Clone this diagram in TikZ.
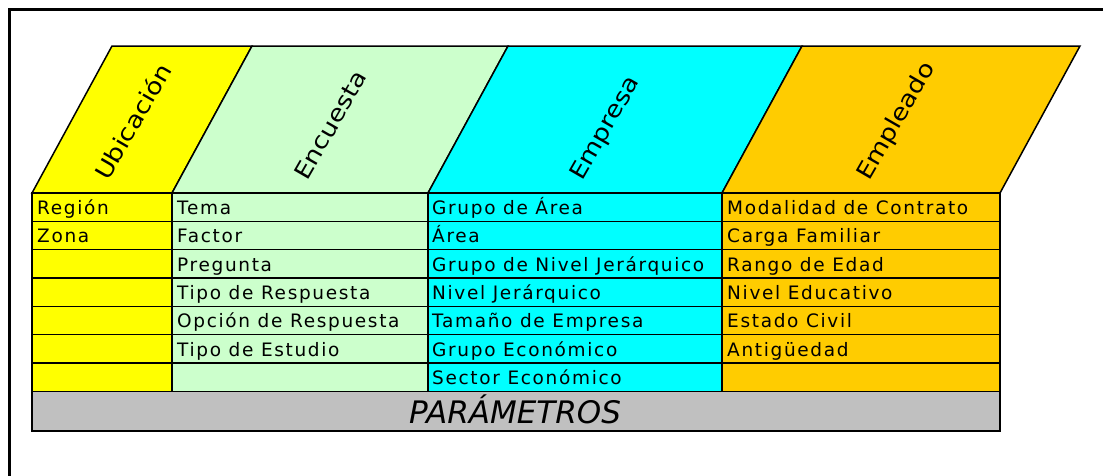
\documentclass[tikz,border=0pt]{standalone}
\usepackage{fontspec}
\setmainfont{DejaVu Sans}[LetterSpace=9]
\newfontfamily\pfont{DejaVu Sans}
\definecolor{cUbic}{HTML}{FFFF00}
\definecolor{cEnc}{HTML}{CCFFCC}
\definecolor{cEmp}{HTML}{00FFFF}
\definecolor{cEmpl}{HTML}{FFCC00}
\definecolor{cPar}{HTML}{C0C0C0}
\newcommand{\headlabel}[1]{\scalebox{1.15}[1]{\pfont\fontsize{23}{25}\selectfont #1}}
\begin{document}
\begin{tikzpicture}[x=1pt,y=-1pt,
  gridline/.style={draw=black,line width=1.5pt},
  celltext/.style={anchor=base west,inner sep=0pt,font=\fontsize{18.5}{20}\selectfont},
  headtext/.style={rotate=60,anchor=base west,inner sep=0pt},
  frameline/.style={draw=black,line width=3pt}]
\useasboundingbox (0,0) rectangle (1103,475);
\fill[white] (0,0) rectangle (1103,475);
\begin{scope}
  \clip (0,0) rectangle (1103,475);
  \draw[frameline] (9,9) rectangle (1130,500);
\end{scope}
% column fills: header parallelograms and bodies
\foreach \a/\b/\c in {32/172/cUbic,172/428/cEnc,428/722/cEmp,722/1000/cEmpl}{
  \filldraw[fill=\c,gridline] (\a,193) -- (\a+80,46) -- (\b+80,46) -- (\b,193) -- cycle;
  \filldraw[fill=\c,gridline] (\a,193) rectangle (\b,391.3);
}
\foreach \i in {1,...,6}{
  \draw[gridline] (32,193+\i*28.33) -- (1000,193+\i*28.33);
}
% parameter bar
\filldraw[fill=cPar,gridline] (32,391.3) rectangle (1000,431);
\node[anchor=base,inner sep=0pt,font=\pfont\itshape\fontsize{31}{33}\selectfont] (param) at (515,423) {PARÁMETROS};
% headers
\node[headtext] (hUbic) at (108,182) {\headlabel{Ubicación}};
\node[headtext] (hEnc) at (307,182) {\headlabel{Encuesta}};
\node[headtext] (hEmp) at (582,182) {\headlabel{Empresa}};
\node[headtext] (hEmpl) at (869,182) {\headlabel{Empleado}};
% cells
\node[celltext] (u1) at (37,214.5) {Región};
\node[celltext] (u2) at (37,242.8) {Zona};
\node[celltext] (e1) at (177,214.5) {Tema};
\node[celltext] (e2) at (177,242.8) {Factor};
\node[celltext] (e3) at (177,271.2) {Pregunta};
\node[celltext] (e4) at (177,299.5) {Tipo de Respuesta};
\node[celltext] (e5) at (177,327.8) {Opción de Respuesta};
\node[celltext] (e6) at (177,356.2) {Tipo de Estudio};
\node[celltext] (m1) at (432,214.5) {Grupo de Área};
\node[celltext] (m2) at (432,242.8) {Área};
\node[celltext] (m3) at (432,271.2) {Grupo de Nivel Jerárquico};
\node[celltext] (m4) at (432,299.5) {Nivel Jerárquico};
\node[celltext] (m5) at (432,327.8) {Tamaño de Empresa};
\node[celltext] (m6) at (432,356.2) {Grupo Económico};
\node[celltext] (m7) at (432,384.5) {Sector Económico};
\node[celltext] (p1) at (727,214.5) {Modalidad de Contrato};
\node[celltext] (p2) at (727,242.8) {Carga Familiar};
\node[celltext] (p3) at (727,271.2) {Rango de Edad};
\node[celltext] (p4) at (727,299.5) {Nivel Educativo};
\node[celltext] (p5) at (727,327.8) {Estado Civil};
\node[celltext] (p6) at (727,356.2) {Antigüedad};
\end{tikzpicture}
\end{document}
